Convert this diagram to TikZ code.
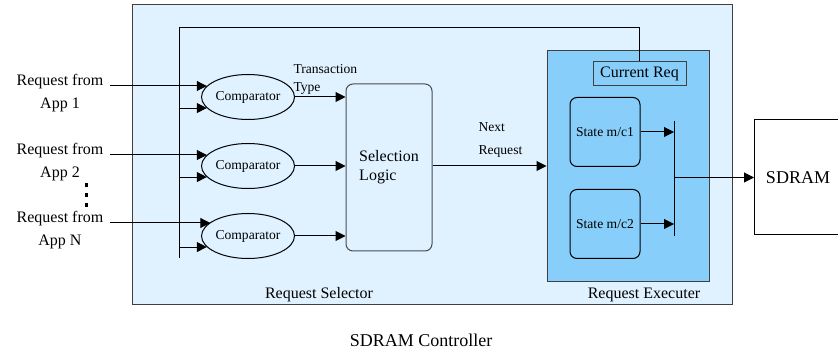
\documentclass[tikz,border=0pt]{standalone}
\usepackage{fontspec}
\setmainfont{Liberation Serif}
\usetikzlibrary{arrows.meta,shapes.geometric}
\definecolor{selblue}{RGB}{224,242,255}
\definecolor{exeblue}{RGB}{135,206,250}
\newcommand{\smallfnt}{\fontsize{13.6}{18}\selectfont}
\newcommand{\midfnt}{\fontsize{16}{23}\selectfont}
\newcommand{\bigfnt}{\fontsize{18}{22}\selectfont}
\tikzstyle{arr}=[-{Triangle[length=10pt,width=10pt]}]
\tikzstyle{compar}=[ellipse,draw,minimum width=93pt,minimum height=45pt,inner sep=0pt,font=\smallfnt]
\tikzstyle{statebox}=[draw,rounded corners=7pt,minimum width=70pt,minimum height=69pt,inner sep=0pt,font=\smallfnt]
\tikzstyle{txt}=[inner sep=0pt,font=\midfnt]

\begin{document}
\begin{tikzpicture}[x=1pt,y=-1pt,line width=1pt]
    \useasboundingbox (0,0) rectangle (838,352);
    \node[draw=black!75,fill=selblue,minimum width=600pt,minimum height=300pt,inner sep=0pt] (sel) at (432,155) {};
    \node[draw=black!75,fill=exeblue,minimum width=162pt,minimum height=231pt,inner sep=0pt] (exe) at (628,166.5) {};
    \node[draw=black!75,minimum width=93pt,minimum height=24pt,inner sep=0pt,font=\midfnt] (cur) at (639.5,74) {Current Req};
    \node[statebox] (sm1) at (605,132) {State m/c1};
    \node[statebox] (sm2) at (605,224) {State m/c2};
    \node[draw=black!70,rounded corners=7pt,minimum width=86pt,minimum height=167pt,inner sep=0pt,align=left,font=\midfnt] (logic) at (389,167.5) {Selection\\[-4pt]Logic};
    \node[draw,minimum width=92pt,minimum height=115pt,inner sep=0pt,anchor=west] (sdram) at (754,177.5) {};
    \node[txt,font=\bigfnt] (sdtxt) at (798,178) {SDRAM};

    \node[compar] (c1) at (248,97)  {Comparator};
    \node[compar] (c2) at (248,166) {Comparator};
    \node[compar] (c3) at (248,236) {Comparator};

    \node[txt] (in1) at (60,82)  {Request from};
    \node[txt] (app1) at (60,105) {App 1};
    \node[txt] (in2) at (60,151) {Request from};
    \node[txt] (app2) at (60,174) {App 2};
    \node[txt] (in3) at (60,219) {Request from};
    \node[txt] (appn) at (60,242) {App N};
    \foreach \y in {185,195,205}
        \fill (84.5,\y-1.75) rectangle (88,\y+1.75);

    \node[inner sep=0pt,align=left,anchor=west,font=\smallfnt] (ttype) at (293,79) {Transaction\\Type};
    \node[inner sep=0pt,align=left,anchor=west,font=\smallfnt] (nreq) at (478,139.5) {Next\\[5pt]Request};
    \node[txt] (seltxt) at (319,295) {Request Selector};
    \node[txt] (exetxt) at (644,295) {Request Executer};
    \node[txt,font=\bigfnt] (ctrl) at (421,340) {SDRAM Controller};

    \coordinate (bus) at (179,28);
    \coordinate (busend) at (179,258);
    \coordinate (s1) at (110,86);
    \coordinate (s2) at (110,155);
    \coordinate (s3) at (110,223);
    \coordinate (bt) at (674,121);
    \coordinate (bb) at (674,236);

    % requests into the comparators
    \draw[arr] (s1) -- (s1 -| c1.165);
    \draw[arr] (s2) -- (s2 -| c2.165);
    \draw[arr] (s3) -- (s3 -| c3.160);
    % current request fed back
    \draw (cur.north) |- (bus) -- (busend);
    \foreach \c in {c1,c2,c3}
        \draw[arr] (\c.195 -| bus) -- (\c.195);
    \foreach \c in {c1,c2,c3}
        \draw[arr] (\c.east) -- (\c.east -| logic.west);
    \draw[arr] ([yshift=1.5pt]logic.east) -- ([yshift=1.5pt]logic.east -| exe.west);

    \draw (bt) -- (bb);
    \draw[arr] (sm1.east) -- (sm1.east -| bt);
    \draw[arr] (sm2.east) -- (sm2.east -| bt);
    \draw[arr] (sdram.west -| bt) -- (sdram.west);
\end{tikzpicture}
\end{document}
